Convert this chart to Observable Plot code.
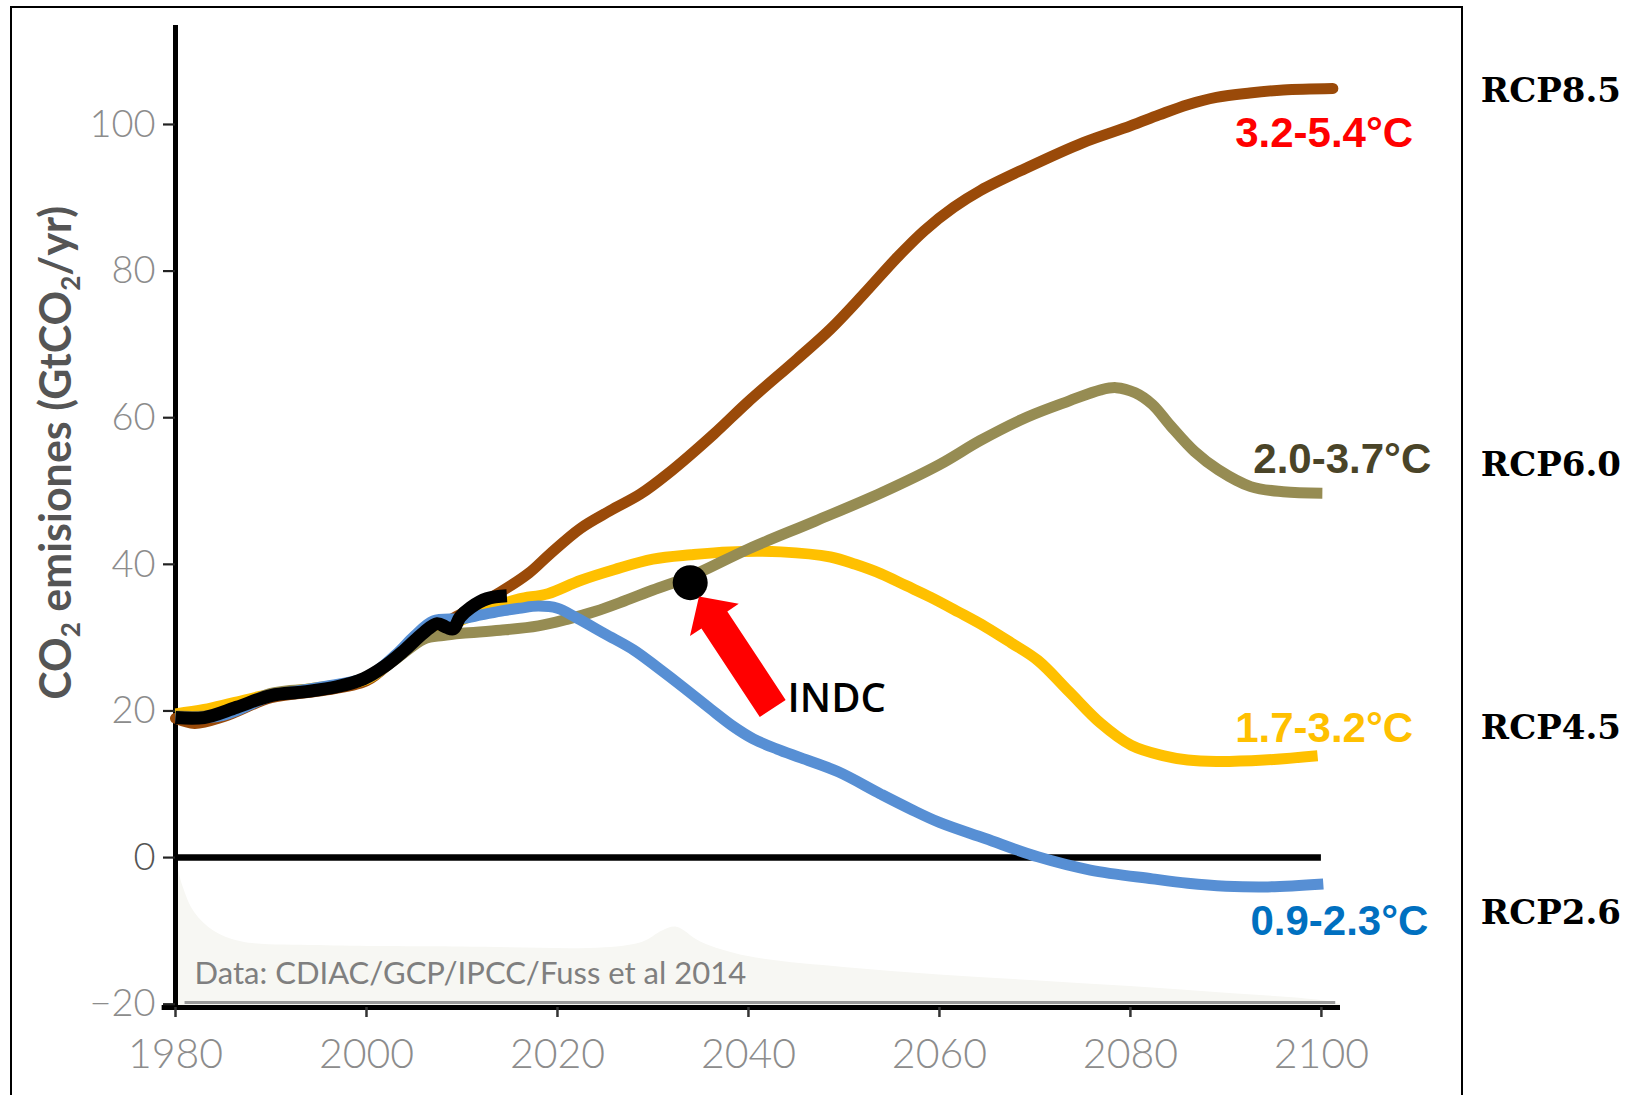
<!DOCTYPE html>
<html>
<head>
<meta charset="utf-8">
<script src="https://cdn.jsdelivr.net/npm/d3@7"></script>
<script src="https://cdn.jsdelivr.net/npm/@observablehq/plot@0.6"></script>
<style>
  html, body { margin: 0; padding: 0; background: #fff; overflow: hidden; }
  #wrap { position: relative; width: 1642px; height: 1095px; overflow: hidden; }
  #wrap svg { position: absolute; left: 0; top: 0; }
  #frame { position: absolute; left: 10px; top: 6px; width: 1453px; height: 1200px;
           border: 2px solid #000; box-sizing: border-box; pointer-events: none; }
</style>
</head>
<body>
<div id="wrap"><div id="frame"></div></div>
<script>
// ---------------- data ----------------
const xTicks = [1980, 2000, 2020, 2040, 2060, 2080, 2100];
const yTicks = [-20, 0, 20, 40, 60, 80, 100];

// historical emissions (black)
const histYears  = [1980, 1983, 1986.4, 1990, 1993.4, 1996.9, 1999.7, 2001.8, 2003.9, 2006, 2007.4, 2008.4, 2009.1, 2009.8, 2010.9, 2012.6, 2014.7];
const histValues = [19.1, 19.1, 20.5, 22.1, 22.6, 23.3, 24.4, 26.0, 28.2, 30.7, 31.9, 31.4, 31.2, 32.8, 34.1, 35.3, 35.7];

// RCP8.5 (brown)
const rcp85Years  = [1980, 1982, 1985, 1990, 1995, 2000, 2003, 2006, 2010, 2014, 2017, 2019.2, 2022.4, 2025.5, 2028.7, 2031.5, 2036.4, 2039.9, 2045.1, 2048.6, 2052.1, 2055.6, 2058.4, 2061.5, 2064.3, 2069, 2075, 2080, 2083, 2086, 2089, 2092.5, 2096, 2101.2];
const rcp85Values = [19.0, 18.3, 19.2, 21.8, 22.7, 24.1, 27.2, 30.4, 33.3, 36.2, 38.8, 41.4, 44.9, 47.3, 49.6, 52.3, 57.8, 62.1, 68.0, 72.1, 76.9, 81.9, 85.5, 88.7, 91.0, 94.0, 97.5, 99.8, 101.3, 102.7, 103.7, 104.3, 104.7, 104.9];

// RCP6.0 (olive)
const rcp60Years  = [1980, 1985, 1990, 1995, 2000, 2003, 2006, 2008, 2010, 2014, 2018, 2021, 2024, 2027, 2030, 2034, 2040, 2047, 2054, 2060, 2064.3, 2069.2, 2073.6, 2076.9, 2078.5, 2080.5, 2082.3, 2084.2, 2086.7, 2089.2, 2092.6, 2096, 2100.1];
const rcp60Values = [19.3, 19.6, 22.4, 23.1, 24.4, 27.0, 29.8, 30.3, 30.6, 31.0, 31.6, 32.5, 33.6, 35.0, 36.5, 38.4, 42.1, 45.9, 49.8, 53.6, 56.9, 60.1, 62.3, 63.8, 64.1, 63.4, 61.8, 58.9, 55.4, 52.9, 50.6, 49.9, 49.7];

// RCP4.5 (yellow)
const rcp45Years  = [1980, 1983, 1986, 1990, 1995, 2000, 2003, 2006, 2008, 2010, 2012, 2014, 2016, 2019, 2022.4, 2026, 2030, 2034, 2038, 2043.4, 2048.6, 2051.2, 2053.9, 2056.5, 2059.1, 2062, 2064.8, 2067.5, 2070.3, 2073.6, 2076.9, 2080.1, 2083.4, 2086, 2089, 2094, 2099.6];
const rcp45Values = [19.6, 20.2, 21.1, 22.3, 23.2, 24.3, 27.2, 30.4, 31.2, 32.4, 33.6, 34.5, 35.3, 36.0, 37.8, 39.3, 40.7, 41.3, 41.7, 41.7, 41.0, 40.0, 38.7, 37.1, 35.5, 33.5, 31.5, 29.3, 26.9, 22.6, 18.3, 15.3, 13.9, 13.3, 13.1, 13.3, 13.9];

// RCP2.6 (blue)
const rcp26Years  = [1980, 1985, 1990, 1995, 2000, 2003, 2005, 2007, 2010, 2012, 2014.4, 2016, 2018, 2020, 2022, 2025, 2028, 2030.5, 2033.2, 2036, 2038.4, 2040.5, 2043, 2045.5, 2049.4, 2053.8, 2057, 2060, 2064.8, 2070.3, 2075.8, 2082.3, 2086, 2090, 2094.4, 2100.2];
const rcp26Values = [19.0, 19.4, 22.0, 23.2, 24.6, 27.6, 30.2, 32.3, 32.6, 33.1, 33.7, 34.0, 34.3, 34.0, 32.7, 30.5, 28.3, 25.9, 23.2, 20.3, 17.9, 16.2, 14.8, 13.6, 11.7, 8.7, 6.6, 4.8, 2.6, 0.1, -1.7, -2.9, -3.5, -3.9, -4.0, -3.6];

// faint background shading of the original figure (top edge)
const shadeYears = [1980, 1980.8, 1982, 1984, 1987, 1995, 2010, 2025, 2029, 2031, 2032.5, 2035, 2040, 2050, 2060, 2070, 2080, 2090, 2100, 2102];
const shadeTop   = [0, -4, -7.5, -10, -11.5, -12, -12.2, -12.3, -11.5, -10, -9.5, -11.5, -13.5, -15, -16, -16.8, -17.6, -18.5, -19.5, -20];

// INDC annotation
const indcYear = [2033.9];
const indcValue = [37.5];
const indcArrowYears  = [2042.54, 2034.82];   // tail, tip
const indcArrowValues = [20.33, 35.61];
const indcText = ["INDC"];
const indcTextYear = [2044.1];
const indcTextValue = [19.8];

// temperature labels
const tempLabels = ["3.2-5.4°C", "2.0-3.7°C", "1.7-3.2°C", "0.9-2.3°C"];
const tempLabelYears  = [2109.6, 2111.5, 2109.6, 2111.2];
const tempLabelValues = [96.9, 52.4, 15.7, -10.6];

// scenario names
const rcpLabels = ["RCP8.5", "RCP6.0", "RCP4.5", "RCP2.6"];
const rcpLabelYear = 2116.7;
const rcpLabelValues = [103.1, 52.1, 16.2, -9.1];

const yLabel = "CO2 emisiones (GtCO2/yr)";
const yLabelValue = 55.2;
const credit = "Data: CDIAC/GCP/IPCC/Fuss et al 2014";
const creditYear = 1982.0;
const creditValue = -17.3;

// ---------------- layout / style ----------------
const W = 1642, H = 1095;
const M = {top: 25, right: 302, bottom: 88, left: 175};
const xDomain = [1980, 2102];
const yDomain = [-20.45, 113.5];

const colors = {rcp85: "#9A4A09", rcp60: "#968C53", rcp45: "#FFC000", rcp26: "#578FD4", hist: "#000000"};
const labelColors = ["#FF0000", "#4A4428", "#FFC000", "#0070C0"];

const toRows = (years, values) => years.map((year, i) => ({year, value: values[i]}));

// pixel geometry of the arrow from its data endpoints
const sx = d3.scaleLinear(xDomain, [M.left, W - M.right]);
const sy = d3.scaleLinear(yDomain, [H - M.bottom, M.top]);
const adx = sx(indcArrowYears[1]) - sx(indcArrowYears[0]);
const ady = sy(indcArrowValues[1]) - sy(indcArrowValues[0]);
const arrowLen = Math.hypot(adx, ady);
const arrowAngle = Math.atan2(adx, -ady) * 180 / Math.PI;
const arrowShape = {
  draw(ctx, l) {
    const sw = 15.5, hw = 29.2, hl = 28;
    ctx.moveTo(-sw, 0);
    ctx.lineTo(-sw, -(l - hl));
    ctx.lineTo(-hw, -(l - hl));
    ctx.lineTo(0, -l);
    ctx.lineTo(hw, -(l - hl));
    ctx.lineTo(sw, -(l - hl));
    ctx.lineTo(sw, 0);
    ctx.closePath();
  }
};

const lineOpts = (stroke, extra = {}) => ({x: "year", y: "value", stroke, strokeWidth: 11, curve: "catmull-rom", strokeLinecap: "butt", ...extra});

const chart = Plot.plot({
  width: W, height: H,
  marginTop: M.top, marginRight: M.right, marginBottom: M.bottom, marginLeft: M.left,
  x: {domain: xDomain, axis: null},
  y: {domain: yDomain, axis: null},
  style: {fontFamily: "Lato, sans-serif", background: "transparent", overflow: "visible"},
  marks: [
    Plot.areaY(toRows(shadeYears, shadeTop), {x: "year", y1: yDomain[0], y2: "value", fill: "#f7f7f3", curve: "catmull-rom"}),
    // axes lines
    Plot.ruleY([yDomain[0]], {x1: 1981, x2: 2101.5, stroke: "#9a9a9a", strokeWidth: 3, dy: -5}),
    Plot.ruleY([yDomain[0]], {x1: 1978.6, x2: xDomain[1], stroke: "#000", strokeWidth: 5}),
    Plot.ruleX([xTicks[0]], {stroke: "#000", strokeWidth: 5}),
    Plot.axisX({ticks: xTicks, tickFormat: d => String(d), tickSize: 10, tickPadding: 21,
      stroke: "#333", strokeWidth: 2.5, fill: "#8c8c8c", fontSize: 41, fontWeight: 300, fontFamily: "Lato, sans-serif", label: null}),
    Plot.axisY({ticks: yTicks, tickSize: 12, tickPadding: 8,
      stroke: "#222", strokeWidth: 2.2, fill: "#8c8c8c", fontSize: 38, fontWeight: 300, fontFamily: "Lato, sans-serif", label: null}),
    // zero line
    Plot.ruleY([0], {x1: xTicks[0], x2: xTicks[xTicks.length - 1], stroke: "#000", strokeWidth: 6.5}),
    // scenarios
    Plot.line(toRows(rcp85Years, rcp85Values), lineOpts(colors.rcp85, {strokeLinecap: "round"})),
    Plot.line(toRows(rcp45Years, rcp45Values), lineOpts(colors.rcp45)),
    Plot.line(toRows(rcp60Years, rcp60Values), lineOpts(colors.rcp60)),
    Plot.line(toRows(rcp26Years, rcp26Values), lineOpts(colors.rcp26)),
    Plot.line(toRows(histYears, histValues), lineOpts(colors.hist, {strokeWidth: 13})),
    // INDC
    Plot.dot(toRows(indcYear, indcValue), {x: "year", y: "value", r: 17.5, fill: "#000", stroke: "none"}),
    Plot.vector([{year: indcArrowYears[0], value: indcArrowValues[0]}], {x: "year", y: "value",
      length: arrowLen, rotate: arrowAngle, anchor: "start", shape: arrowShape, fill: "#FF0000", stroke: "none"}),
    Plot.text(indcText.map((t, i) => ({t, year: indcTextYear[i], value: indcTextValue[i]})), {x: "year", y: "value", text: "t",
      textAnchor: "start", lineAnchor: "bottom", fontSize: 40, fontWeight: 600, fontFamily: "'Open Sans', sans-serif", fill: "#000"}),
    // temperature labels
    Plot.text(tempLabels.map((t, i) => ({t, i, year: tempLabelYears[i], value: tempLabelValues[i]})), {x: "year", y: "value", text: "t",
      fill: d => labelColors[d.i], textAnchor: "end", lineAnchor: "bottom", fontSize: 42, fontWeight: 700, fontFamily: "'Liberation Sans', Arial, sans-serif"}),
    // scenario names
    Plot.text(rcpLabels.map((t, i) => ({t, year: rcpLabelYear, value: rcpLabelValues[i]})), {x: "year", y: "value", text: "t",
      fill: "#000", textAnchor: "start", lineAnchor: "bottom", fontSize: 34, fontWeight: 700, fontFamily: "'DejaVu Serif', serif"}),
    // credit
    Plot.text([{t: credit, year: creditYear, value: creditValue}], {x: "year", y: "value", text: "t",
      fill: "#7f7f7f", textAnchor: "start", lineAnchor: "bottom", fontSize: 31, fontWeight: 400, fontFamily: "Lato, sans-serif"}),
    // y label
    Plot.text([{t: yLabel, value: yLabelValue}], {y: "value", text: "t", frameAnchor: "left", dx: -118, rotate: -90,
      textAnchor: "middle", lineAnchor: "middle", fill: "#555", fontSize: 43, fontWeight: 700, fontFamily: "Lato, sans-serif"})
  ]
});

// colour tweaks: the "0" tick label is darker
chart.querySelectorAll('g[aria-label="y-axis tick label"] text').forEach(t => {
  if (t.textContent.trim() === "0") t.setAttribute("fill", "#555");
});

// subscripts in the y label
const NS = "http://www.w3.org/2000/svg";
Array.from(chart.querySelectorAll("text")).filter(t => t.textContent === yLabel).forEach(yl => {
  yl.textContent = "";
  const pieces = yLabel.split(/(?<=CO)(2)/);
  let shifted = false;
  pieces.forEach((s, k) => {
    if (!s) return;
    const ts = document.createElementNS(NS, "tspan");
    ts.textContent = s;
    if (k % 2 === 1) { ts.setAttribute("font-size", "26"); ts.setAttribute("dy", "9"); shifted = true; }
    else if (shifted) { ts.setAttribute("dy", "-9"); shifted = false; }
    yl.appendChild(ts);
  });
});

document.getElementById("wrap").prepend(chart);
</script>
</body>
</html>
